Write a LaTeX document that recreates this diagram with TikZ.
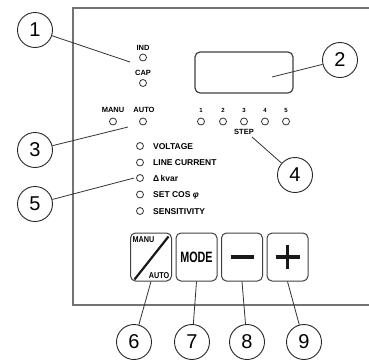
\documentclass[tikz,border=0pt]{standalone}
\usepackage{fontspec}
\setmainfont{Liberation Sans}
\begin{document}
\begin{tikzpicture}[x=1pt,y=-1pt,
  lbl/.style={font=\bfseries\fontsize{8.5}{9}\selectfont, inner sep=0pt, text height=6.1pt, text depth=0pt, anchor=west},
  slbl/.style={font=\bfseries\fontsize{7.5}{8}\selectfont, inner sep=0pt, text height=5.4pt, text depth=0pt},
  nlbl/.style={font=\bfseries\fontsize{6}{6}\selectfont, inner sep=0pt, text height=4.3pt, text depth=0pt},
  led/.style={circle, draw=black!80, line width=0.8pt, minimum size=7pt, inner sep=0pt},
  callout/.style={circle, draw=black!85, line width=0.9pt, minimum size=35pt, inner sep=0pt, font=\fontsize{20}{20}\selectfont},
  conn/.style={draw=black!80, line width=0.8pt},
  btn/.style={draw=black!75, line width=1pt, rounded corners=5pt, minimum width=41pt, minimum height=48pt, inner sep=0pt},
  bar/.style={line width=3.6pt, black!90},
]
\useasboundingbox (0,0) rectangle (369,360);
% panel frame (open to the right)
\draw[black!55, line width=1.2pt] (369,8) -- (73,8) -- (73,305) -- (369,305);

% display
\node[draw=black!75, line width=1.2pt, rounded corners=5pt, minimum width=98pt, minimum height=41pt, inner sep=0pt] (disp) at (244,72.5) {};

% IND / CAP
\node[slbl] (tind) at (143,48) {IND};
\node[led] (lind) at (143,57.5) {};
\node[slbl] (tcap) at (143,73) {CAP};
\node[led] (lcap) at (143,83) {};

% MANU / AUTO
\node[slbl] (tmanu) at (113,110) {MANU};
\node[led] (lmanu) at (113,121.5) {};
\node[slbl] (tauto) at (144,110) {AUTO};
\node[led] (lauto) at (143,121.5) {};

% steps
\foreach \i/\x in {1/201,2/223,3/244,4/265,5/286}{
  \node[nlbl] (sn\i) at (\x,110) {\i};
  \node[led] (sl\i) at (\x,121.5) {};
}
\node[slbl] (tstep) at (244,132) {STEP};

% list
\node[led] (lv) at (140,146) {};
\node[lbl] (tv) at (153,146) {VOLTAGE};
\node[led] (lc) at (140,162.5) {};
\node[lbl] (tc) at (153,162.5) {LINE CURRENT};
\node[led] (lk) at (140,178) {};
\node[lbl] (tk) at (153,178) {Δ\,kvar};
\node[led] (ls) at (140,194.5) {};
\node[lbl] (ts) at (153,194.5) {SET COS \textit{φ}};
\node[led] (lsen) at (140,211) {};
\node[lbl] (tsen) at (153,211) {SENSITIVITY};

% buttons
\node[btn] (b6) at (151,257) {};
\node[btn] (b7) at (196.5,257) {\scalebox{0.72}[1]{\fontsize{15}{15}\selectfont\bfseries MODE}};
\node[btn] (b8) at (242,257) {};
\node[btn] (b9) at (287.5,257) {};
\node[font=\bfseries\fontsize{8.5}{9}\selectfont, inner sep=0pt, anchor=north west, xscale=0.85] (tbm) at ([xshift=2.5pt,yshift=-4pt]b6.north west) {MANU};
\node[font=\bfseries\fontsize{8.5}{9}\selectfont, inner sep=0pt, anchor=south east, xscale=0.85] (tba) at ([xshift=-2.5pt,yshift=3pt]b6.south east) {AUTO};
\draw[line width=2.2pt, black!90] ([xshift=4.5pt,yshift=2pt]b6.south west) -- ([xshift=-3.5pt,yshift=-4pt]b6.north east);
\draw[bar] ([xshift=-11.5pt]b8.center) -- ([xshift=11.5pt]b8.center);
\draw[bar] ([xshift=-12pt]b9.center) -- ([xshift=12pt]b9.center);
\draw[bar] ([yshift=-12pt]b9.center) -- ([yshift=12pt]b9.center);

% callouts
\node[callout] (c1) at (35,30) {1};
\node[callout] (c2) at (340,60) {2};
\node[callout] (c3) at (35,150) {3};
\node[callout] (c4) at (295,175) {4};
\node[callout] (c5) at (35,204) {5};
\node[callout] (c6) at (134,342) {6};
\node[callout] (c7) at (192,342) {7};
\node[callout] (c8) at (247,342) {8};
\node[callout] (c9) at (304,342) {9};

% connector ends
\coordinate (e1) at (130,62);
\coordinate (e2) at (272,77);
\coordinate (e3) at (128,127);
\coordinate (e4) at (252,137);
\coordinate (e5) at (134,178);

\draw[conn] (c1) -- (e1);
\draw[conn] (c2) -- (e2);
\draw[conn] (c3) -- (e3);
\draw[conn] (c4) -- (e4);
\draw[conn] (c5) -- (e5);
\draw[conn] (b6.south) -- (c6);
\draw[conn] (b7.south) -- (c7);
\draw[conn] (b8.south) -- (c8);
\draw[conn] (b9.south) -- (c9);
\end{tikzpicture}
\end{document}
